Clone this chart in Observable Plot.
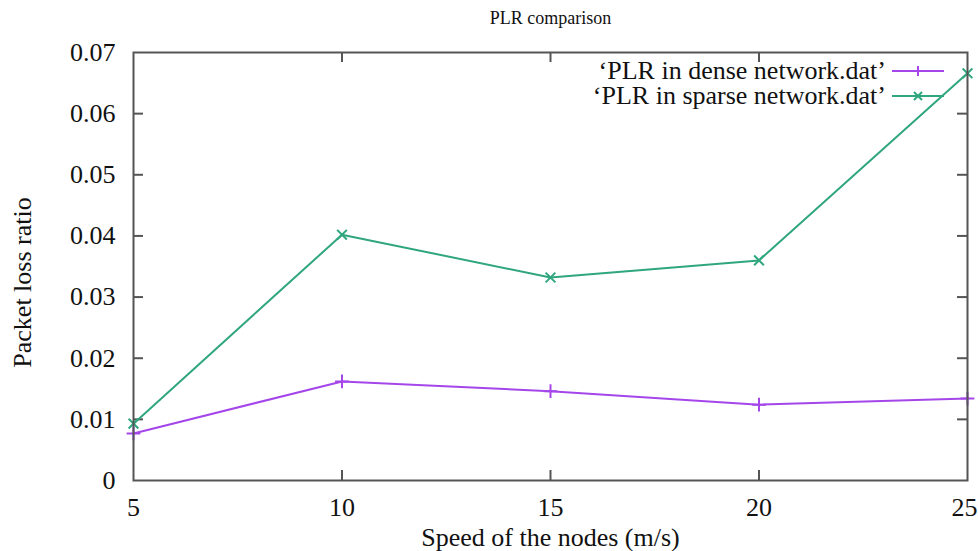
<!DOCTYPE html>
<html>
<head>
<meta charset="utf-8">
<script src="https://cdn.jsdelivr.net/npm/d3@7"></script>
<script src="https://cdn.jsdelivr.net/npm/@observablehq/plot@0.6"></script>
<style>
  html, body { margin: 0; padding: 0; background: #fff; }
  #wrap { position: relative; width: 978px; height: 551px; font-family: "Liberation Serif", "Times New Roman", serif; }
  #wrap svg, #wrap svg text { font-family: "Liberation Serif", "Times New Roman", serif !important; }
  #legend { position: absolute; right: 33px; top: 59px; font-size: 26px; line-height: 24px; color: #111; font-family: "Liberation Serif", "Times New Roman", serif; }
  #legend .row { display: flex; align-items: center; justify-content: flex-end; height: 24px; margin-bottom: 1px; }
  #legend .row span { display: inline-block; height: 24px; line-height: 24px; overflow: visible; white-space: nowrap; }
  #legend svg { margin-left: 5px; }
</style>
</head>
<body>
<div id="wrap"></div>
<script>
const speeds = [5, 10, 15, 20, 25];
const denseValues = [0.0077, 0.0162, 0.0146, 0.0124, 0.0134];
const sparseValues = [0.0093, 0.0402, 0.0332, 0.0360, 0.0666];
const seriesNames = ["\u2018PLR in dense network.dat\u2019", "\u2018PLR in sparse network.dat\u2019"];
const seriesColors = ["#a546ea", "#2fa67e"];
const seriesSymbols = ["plus", "times"];
const xTicks = [5, 10, 15, 20, 25];
const yTicks = [0, 0.01, 0.02, 0.03, 0.04, 0.05, 0.06, 0.07];

const rows = [];
speeds.forEach((s, i) => {
  rows.push({speed: s, value: denseValues[i], series: seriesNames[0]});
  rows.push({speed: s, value: sparseValues[i], series: seriesNames[1]});
});

const W = 978, H = 551, mL = 133, mR = 11, mT = 52, mB = 71;
const innerW = W - mL - mR, innerH = H - mT - mB;
const tickLen = 10;
const innerY = yTicks.filter(d => d > 0 && d < 0.07);
const innerX = xTicks.filter(d => d > 5 && d < 25);
const lastX = xTicks[xTicks.length - 1];
const serif = "Liberation Serif, Times New Roman, serif";

const chart = Plot.plot({
  width: W, height: H,
  marginLeft: mL, marginRight: mR, marginTop: mT, marginBottom: mB,
  style: {fontFamily: serif, color: "#111", background: "#fff"},
  x: {domain: [5, 25]},
  y: {domain: [0, 0.07]},
  color: {domain: seriesNames, range: seriesColors},
  symbol: {domain: seriesNames, range: seriesSymbols},
  marks: [
    Plot.axisX({ticks: xTicks.slice(0, -1), tickSize: 0, tickPadding: 17, fontSize: 26, fontFamily: serif, label: null}),
    Plot.axisX({ticks: [lastX], tickSize: 0, tickPadding: 17, fontSize: 26, fontFamily: serif, label: null, textAnchor: "end", dx: 10}),
    Plot.axisY({ticks: yTicks, tickSize: 0, tickPadding: 18, fontSize: 26, fontFamily: serif, label: null,
      tickFormat: d => d === 0 ? "0" : d3.format(".2f")(d)}),
    Plot.tickY(innerY, {y: d => d, insetRight: innerW - tickLen, stroke: "#555", strokeWidth: 2}),
    Plot.tickY(innerY, {y: d => d, insetLeft: innerW - tickLen, stroke: "#555", strokeWidth: 2}),
    Plot.tickX(innerX, {x: d => d, insetTop: innerH - tickLen, stroke: "#555", strokeWidth: 2}),
    Plot.tickX(innerX, {x: d => d, insetBottom: innerH - tickLen, stroke: "#555", strokeWidth: 2}),
    Plot.line(rows, {x: "speed", y: "value", z: "series", stroke: "series", strokeWidth: 2}),
    Plot.dot(rows, {x: "speed", y: "value", stroke: "series", symbol: "series", r: 4.5, strokeWidth: 2}),
    Plot.frame({stroke: "#555", strokeWidth: 2}),
    Plot.text(["PLR comparison"], {frameAnchor: "top", textAnchor: "middle", lineAnchor: "middle", dy: -34, fontSize: 18, fontFamily: serif, fill: "#111"}),
    Plot.text(["Speed of the nodes (m/s)"], {frameAnchor: "bottom", textAnchor: "middle", lineAnchor: "middle", dy: 57, fontSize: 26, fontFamily: serif, fill: "#111"}),
    Plot.text(["Packet loss ratio"], {frameAnchor: "left", textAnchor: "middle", lineAnchor: "middle", dx: -111, dy: 16, rotate: -90, fontSize: 26, fontFamily: serif, fill: "#111"})
  ]
});

const wrap = document.getElementById("wrap");
wrap.appendChild(chart);

const legend = document.createElement("div");
legend.id = "legend";
seriesNames.forEach((name, i) => {
  const row = document.createElement("div");
  row.className = "row";
  const span = document.createElement("span");
  span.textContent = name;
  row.appendChild(span);
  const sw = d3.create("svg").attr("width", 54).attr("height", 24);
  sw.append("line").attr("x1", 1).attr("x2", 53).attr("y1", 12).attr("y2", 12)
    .attr("stroke", seriesColors[i]).attr("stroke-width", 2);
  const r = 5;
  const d = seriesSymbols[i] === "plus"
    ? `M${-r},0H${r}M0,${-r}V${r}`
    : `M${-r*0.8},${-r*0.8}L${r*0.8},${r*0.8}M${-r*0.8},${r*0.8}L${r*0.8},${-r*0.8}`;
  sw.append("path").attr("transform", "translate(27,12)").attr("d", d)
    .attr("fill", "none").attr("stroke", seriesColors[i]).attr("stroke-width", 2);
  row.appendChild(sw.node());
  legend.appendChild(row);
});
wrap.appendChild(legend);
</script>
</body>
</html>
